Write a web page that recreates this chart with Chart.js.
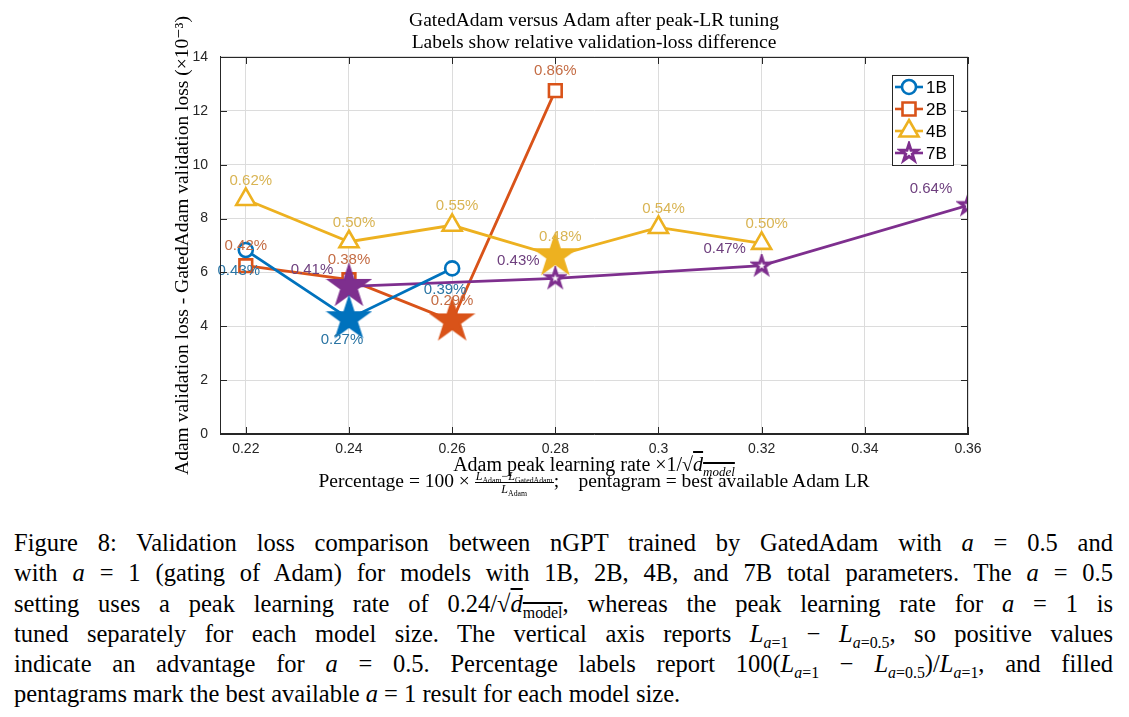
<!DOCTYPE html>
<html>
<head>
<meta charset="utf-8">
<script src="https://cdn.jsdelivr.net/npm/chart.js@4.4.1/dist/chart.umd.min.js"></script>
<style>
  html, body { margin: 0; padding: 0; background: #fff; }
  #page { position: relative; width: 1129px; height: 717px; overflow: hidden; background: #fff; }
  #plot { position: absolute; left: 0; top: 0; }
  .serif { font-family: "Liberation Serif", "DejaVu Serif", serif; color: #000; }
  #xtitle { position: absolute; left: 220px; width: 748px; top: 453px; text-align: center; font-size: 20px; line-height: 22px; }
  #formula { position: absolute; left: 220px; width: 748px; top: 469px; text-align: center; font-size: 19.5px; line-height: 24px; white-space: nowrap; }
  .ovl { text-decoration: overline; }
  .frac { display: inline-block; vertical-align: middle; text-align: center; font-size: 12px; line-height: 12px; }
  .frac .num { display: block; border-bottom: 1px solid #000; padding: 0 1px; }
  .frac .den { display: block; }
  #caption { position: absolute; left: 14px; width: 1099px; top: 528px; font-size: 24.5px; line-height: 30.3px; }
  #caption div { text-align: justify; text-align-last: justify; white-space: nowrap; }
  #caption div.last { text-align-last: left; }
  sub { font-size: 0.65em; line-height: 0; }
</style>
</head>
<body>
<div id="page">
  <canvas id="plot" width="1129" height="500"></canvas>
  <div id="xtitle" class="serif">Adam peak learning rate ×1/√<span class="ovl"><i>d</i><sub><i>model</i></sub></span></div>
  <div id="formula" class="serif">Percentage = 100 × <span class="frac"><span class="num"><i>L</i><sub>Adam</sub>−<i>L</i><sub>GatedAdam</sub></span><span class="den"><i>L</i><sub>Adam</sub></span></span>;&nbsp;&nbsp;&nbsp; pentagram = best available Adam LR</div>
  <div id="caption" class="serif">
    <div>Figure 8: Validation loss comparison between nGPT trained by GatedAdam with <i>a</i> = 0.5 and</div>
    <div>with <i>a</i> = 1 (gating of Adam) for models with 1B, 2B, 4B, and 7B total parameters. The <i>a</i> = 0.5</div>
    <div>setting uses a peak learning rate of 0.24/√<span class="ovl"><i>d</i><sub>model</sub></span>, whereas the peak learning rate for <i>a</i> = 1 is</div>
    <div>tuned separately for each model size. The vertical axis reports <i>L</i><sub><i>a</i>=1</sub> − <i>L</i><sub><i>a</i>=0.5</sub>, so positive values</div>
    <div>indicate an advantage for <i>a</i> = 0.5. Percentage labels report 100(<i>L</i><sub><i>a</i>=1</sub> − <i>L</i><sub><i>a</i>=0.5</sub>)/<i>L</i><sub><i>a</i>=1</sub>, and filled</div>
    <div class="last">pentagrams mark the best available <i>a</i> = 1 result for each model size.</div>
  </div>
</div>
<script>
// values (loss difference in units of 1e-3)
var seriesNames = ['1B', '2B', '4B', '7B'];

var lr1B = [0.22, 0.24, 0.26];
var diff1B = [6.83, 4.28, 6.15];
var pct1B = [0.43, 0.27, 0.39];

var lr2B = [0.22, 0.24, 0.26, 0.28];
var diff2B = [6.25, 5.73, 4.20, 12.75];
var pct2B = [0.42, 0.38, 0.29, 0.86];

var lr4B = [0.22, 0.24, 0.26, 0.28, 0.30, 0.32];
var diff4B = [8.71, 7.14, 7.75, 6.62, 7.67, 7.08];
var pct4B = [0.62, 0.50, 0.55, 0.48, 0.54, 0.50];

var lr7B = [0.24, 0.28, 0.32, 0.36];
var diff7B = [5.48, 5.78, 6.25, 8.49];
var pct7B = [0.41, 0.43, 0.47, 0.64];

// best available Adam LR per model size (filled pentagram)
var bestLR = [0.24, 0.26, 0.28, 0.24];

var xTicks = [0.22, 0.24, 0.26, 0.28, 0.3, 0.32, 0.34, 0.36];
var yTicks = [0, 2, 4, 6, 8, 10, 12, 14];

var lineColors = ['#0072BD', '#D95319', '#EDB120', '#7E2F8E'];
var labelColors = ['#2a74a3', '#c46c44', '#d9b453', '#6e3f7e'];
var labelShift = [[-7, 21], [0, -20], [5, -19], [-37, -17]];

function pentagram(rOut, fill, stroke, lw) {
  var c = document.createElement('canvas');
  var s = Math.ceil(2 * (rOut + lw));
  c.width = s; c.height = s;
  var g = c.getContext('2d');
  var rIn = rOut * 0.382;
  g.beginPath();
  for (var k = 0; k < 10; k++) {
    var r = k % 2 === 0 ? rOut : rIn;
    var a = -Math.PI / 2 + k * Math.PI / 5;
    var px = s / 2 + r * Math.cos(a), py = s / 2 + r * Math.sin(a);
    if (k === 0) g.moveTo(px, py); else g.lineTo(px, py);
  }
  g.closePath();
  g.fillStyle = fill; g.fill();
  g.lineJoin = 'miter';
  g.lineWidth = lw; g.strokeStyle = stroke; g.stroke();
  return c;
}

var smallStar = pentagram(9, '#ffffff', lineColors[3], 3);
var bigStars = lineColors.map(function (c) { return pentagram(22, c, c, 1.5); });

var baseStyle = ['circle', 'rect', 'triangle', smallStar];
var baseRadius = [7, 9, 11, 10];

function mkDataset(i, xs, ys, pcts, ord) {
  return {
    label: seriesNames[i],
    data: xs.map(function (x, j) { return { x: x, y: ys[j] }; }),
    pcts: pcts,
    borderColor: lineColors[i],
    backgroundColor: lineColors[i],
    borderWidth: 2.8,
    pointStyle: xs.map(function (x) { return x === bestLR[i] ? bigStars[i] : baseStyle[i]; }),
    pointRadius: xs.map(function (x) { return x === bestLR[i] ? 22 : baseRadius[i]; }),
    pointBorderWidth: 2.6,
    pointBorderColor: lineColors[i],
    pointBackgroundColor: '#ffffff',
    tension: 0,
    order: ord,
    labelColor: labelColors[i],
    labelShift: labelShift[i]
  };
}

// inward tick marks and full box around plot area
var boxPlugin = {
  id: 'box',
  afterDraw: function (chart) {
    var ctx = chart.ctx, a = chart.chartArea;
    var xs = chart.scales.x, ys = chart.scales.y;
    ctx.save();
    ctx.strokeStyle = '#262626';
    ctx.lineWidth = 1;
    ctx.strokeRect(a.left + 0.5, a.top + 0.5, a.right - a.left - 1, a.bottom - a.top - 1);
    xTicks.forEach(function (v) {
      var px = Math.round(xs.getPixelForValue(v)) + 0.5;
      ctx.beginPath();
      ctx.moveTo(px, a.bottom); ctx.lineTo(px, a.bottom - 7);
      ctx.moveTo(px, a.top); ctx.lineTo(px, a.top + 7);
      ctx.stroke();
    });
    yTicks.forEach(function (v) {
      var py = Math.round(ys.getPixelForValue(v)) + 0.5;
      ctx.beginPath();
      ctx.moveTo(a.left, py); ctx.lineTo(a.left + 7, py);
      ctx.moveTo(a.right, py); ctx.lineTo(a.right - 7, py);
      ctx.stroke();
    });
    ctx.restore();
  }
};

var pctPlugin = {
  id: 'pct',
  afterDatasetsDraw: function (chart) {
    var ctx = chart.ctx;
    ctx.save();
    ctx.font = '15px "Liberation Sans", Arial, sans-serif';
    ctx.textAlign = 'center';
    ctx.textBaseline = 'middle';
    chart.data.datasets.forEach(function (ds, i) {
      var meta = chart.getDatasetMeta(i);
      ctx.fillStyle = ds.labelColor;
      meta.data.forEach(function (pt, j) {
        ctx.fillText(ds.pcts[j].toFixed(2) + '%', pt.x + ds.labelShift[0], pt.y + ds.labelShift[1]);
      });
    });
    ctx.restore();
  }
};

function legendMarker(ctx, i, x, y) {
  ctx.fillStyle = '#ffffff';
  ctx.strokeStyle = lineColors[i];
  ctx.lineWidth = 2.6;
  ctx.beginPath();
  if (i === 0) {
    ctx.arc(x, y, 7, 0, Math.PI * 2);
  } else if (i === 1) {
    ctx.rect(x - 6.5, y - 6.5, 13, 13);
  } else if (i === 2) {
    ctx.moveTo(x, y - 11); ctx.lineTo(x + 9.5, y + 5.5); ctx.lineTo(x - 9.5, y + 5.5); ctx.closePath();
  } else {
    ctx.drawImage(smallStar, x - smallStar.width / 2, y - smallStar.height / 2);
    return;
  }
  ctx.fill(); ctx.stroke();
}

var legendPlugin = {
  id: 'boxLegend',
  afterDraw: function (chart) {
    var ctx = chart.ctx, a = chart.chartArea;
    var bx = a.right - 76, by = a.top + 18, bw = 61, bh = 90;
    ctx.save();
    ctx.fillStyle = '#ffffff';
    ctx.fillRect(bx, by, bw, bh);
    ctx.strokeStyle = '#262626';
    ctx.lineWidth = 1;
    ctx.strokeRect(bx + 0.5, by + 0.5, bw, bh);
    seriesNames.forEach(function (name, i) {
      var y = by + 12 + i * 22;
      ctx.strokeStyle = lineColors[i];
      ctx.lineWidth = 2.6;
      ctx.beginPath();
      ctx.moveTo(bx + 3, y); ctx.lineTo(bx + 31, y);
      ctx.stroke();
      legendMarker(ctx, i, bx + 17, y);
      ctx.fillStyle = '#000000';
      ctx.font = '17px "Liberation Sans", Arial, sans-serif';
      ctx.textAlign = 'left';
      ctx.textBaseline = 'middle';
      ctx.fillText(name, bx + 34, y + 1);
    });
    ctx.restore();
  }
};

var tickFont = { family: '"Liberation Sans", Arial, sans-serif', size: 14 };

new Chart(document.getElementById('plot'), {
  type: 'line',
  data: {
    datasets: [
      mkDataset(0, lr1B, diff1B, pct1B, 0),
      mkDataset(1, lr2B, diff2B, pct2B, 3),
      mkDataset(2, lr4B, diff4B, pct4B, 2),
      mkDataset(3, lr7B, diff7B, pct7B, 1)
    ]
  },
  options: {
    responsive: false,
    animation: false,
    layout: { padding: { left: 171, right: 161, top: 10, bottom: 32 } },
    plugins: {
      legend: { display: false },
      tooltip: { enabled: false },
      title: {
        display: true,
        fullSize: false,
        text: ['GatedAdam versus Adam after peak-LR tuning', 'Labels show relative validation-loss difference'],
        color: '#000',
        font: { family: '"Liberation Serif", "DejaVu Serif", serif', size: 19.5, weight: 'normal', lineHeight: 1.128 },
        padding: { top: 0, bottom: 3 }
      }
    },
    scales: {
      x: {
        type: 'linear',
        min: 0.215,
        max: 0.36,
        afterBuildTicks: function (s) { s.ticks = xTicks.map(function (v) { return { value: v }; }); },
        afterFit: function (s) { s.height = 34; },
        ticks: { color: '#262626', font: tickFont, padding: 7, maxRotation: 0, autoSkip: false,
                 callback: function (v) { return String(v); } },
        grid: { color: '#dcdcdc', drawTicks: false },
        border: { color: '#262626' }
      },
      y: {
        min: 0,
        max: 14,
        afterBuildTicks: function (s) { s.ticks = yTicks.map(function (v) { return { value: v }; }); },
        afterFit: function (s) { s.width = 49; },
        ticks: { color: '#262626', font: tickFont, padding: 12 },
        grid: { color: '#dcdcdc', drawTicks: false },
        border: { color: '#262626' },
        title: {
          display: true,
          text: 'Adam validation loss - GatedAdam validation loss (×10⁻³)',
          color: '#000',
          font: { family: '"Liberation Serif", "DejaVu Serif", serif', size: 19.5 },
          padding: { top: 0, bottom: 0 }
        }
      }
    }
  },
  plugins: [boxPlugin, pctPlugin, legendPlugin]
});
</script>
</body>
</html>
